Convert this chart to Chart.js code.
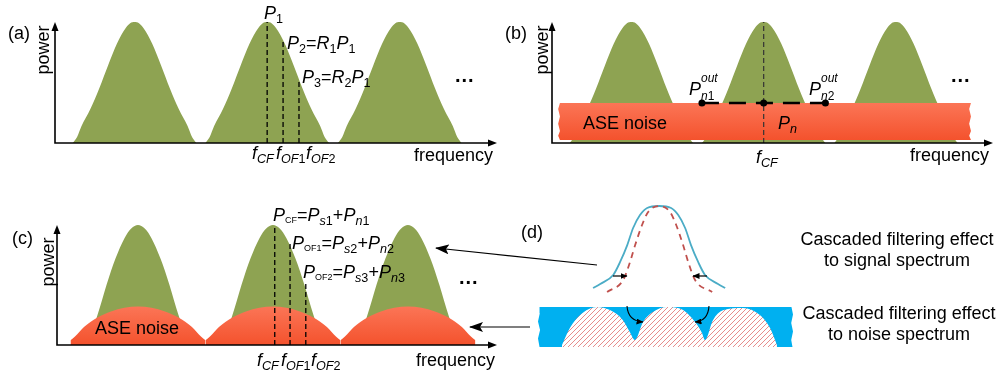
<!DOCTYPE html>
<html>
<head>
<meta charset="utf-8">
<script src="https://cdn.jsdelivr.net/npm/chart.js@4.4.1/dist/chart.umd.min.js"></script>
<style>
  body { margin: 0; background: #fff; }
  #wrap { position: relative; width: 1003px; height: 375px; overflow: hidden; background: #fff; }
  canvas { position: absolute; }
  .t { position: absolute; font: 18px 'Liberation Sans', Arial, sans-serif; line-height: 18px; white-space: nowrap; color: #000; }
  .t sub { font-size: 0.7em; vertical-align: -0.3em; line-height: 0; }
  .t sub.tiny { font-size: 0.5em; vertical-align: -0.2em; }
  .s12 { font-size: 12px; line-height: 12px; }
  .rot { width: 60px; text-align: center; transform: rotate(-90deg); }
  .dots { font-weight: bold; font-size: 20px; letter-spacing: 1px; }
  svg { position: absolute; left: 0; top: 0; }
</style>
</head>
<body>
<div id="wrap">
  <canvas id="chartA" width="500" height="175" style="left:0;top:0"></canvas>
  <canvas id="chartB" width="503" height="175" style="left:500px;top:0"></canvas>
  <canvas id="chartC" width="500" height="190" style="left:0;top:185px"></canvas>
  <canvas id="chartD" width="483" height="190" style="left:520px;top:185px"></canvas>

  <!-- (a) -->
  <div class="t" style="left:8px;top:24px">(a)</div>
  <div class="t rot" style="left:13px;top:41px">power</div>
  <div class="t" style="left:414px;top:146px">frequency</div>
  <div class="t" style="left:264px;top:4px"><i>P</i><sub>1</sub></div>
  <div class="t" style="left:287px;top:34px"><i>P</i><sub>2</sub>=<i>R</i><sub>1</sub><i>P</i><sub>1</sub></div>
  <div class="t" style="left:302px;top:68px"><i>P</i><sub>3</sub>=<i>R</i><sub>2</sub><i>P</i><sub>1</sub></div>
  <div class="t dots" style="left:455px;top:66px">...</div>
  <div class="t" style="left:252px;top:144px"><i>f</i><sub><i>CF</i></sub></div>
  <div class="t" style="left:276px;top:144px"><i>f</i><sub><i>OF</i>1</sub></div>
  <div class="t" style="left:306px;top:144px"><i>f</i><sub><i>OF</i>2</sub></div>

  <!-- (b) -->
  <div class="t" style="left:505px;top:24px">(b)</div>
  <div class="t rot" style="left:512px;top:41px">power</div>
  <div class="t" style="left:910px;top:146px">frequency</div>
  <div class="t" style="left:756px;top:148px"><i>f</i><sub><i>CF</i></sub></div>
  <div class="t" style="left:583px;top:114px">ASE noise</div>
  <div class="t" style="left:778px;top:114px"><i>P</i><sub><i>n</i></sub></div>
  <div class="t" style="left:689px;top:80px"><i>P</i></div>
  <div class="t s12" style="left:701px;top:72px"><i>out</i></div>
  <div class="t s12" style="left:701px;top:90px"><i>n</i>1</div>
  <div class="t" style="left:809px;top:80px"><i>P</i></div>
  <div class="t s12" style="left:821px;top:72px"><i>out</i></div>
  <div class="t s12" style="left:821px;top:90px"><i>n</i>2</div>
  <div class="t dots" style="left:951px;top:66px">...</div>

  <!-- (c) -->
  <div class="t" style="left:12px;top:229px">(c)</div>
  <div class="t rot" style="left:18px;top:253px">power</div>
  <div class="t" style="left:416px;top:351px">frequency</div>
  <div class="t" style="left:257px;top:351px"><i>f</i><sub><i>CF</i></sub></div>
  <div class="t" style="left:281px;top:351px"><i>f</i><sub><i>OF</i>1</sub></div>
  <div class="t" style="left:311px;top:351px"><i>f</i><sub><i>OF</i>2</sub></div>
  <div class="t" style="left:273px;top:206px"><i>P</i><sub class="tiny">CF</sub>=<i>P</i><sub><i>s</i>1</sub>+<i>P</i><sub><i>n</i>1</sub></div>
  <div class="t" style="left:292px;top:234px"><i>P</i><sub class="tiny">OF1</sub>=<i>P</i><sub><i>s</i>2</sub>+<i>P</i><sub><i>n</i>2</sub></div>
  <div class="t" style="left:303px;top:263px"><i>P</i><sub class="tiny">OF2</sub>=<i>P</i><sub><i>s</i>3</sub>+<i>P</i><sub><i>n</i>3</sub></div>
  <div class="t" style="left:95px;top:319px">ASE noise</div>
  <div class="t dots" style="left:459px;top:268px">...</div>

  <!-- (d) -->
  <div class="t" style="left:521px;top:223px">(d)</div>
  <div class="t" style="left:797px;top:229px;width:200px;text-align:center;line-height:21px">Cascaded filtering effect<br>to signal spectrum</div>
  <div class="t" style="left:799px;top:303px;width:200px;text-align:center;line-height:21px">Cascaded filtering effect<br>to noise spectrum</div>

  <svg width="1003" height="375">
    <defs>
      <marker id="big" markerUnits="userSpaceOnUse" markerWidth="14" markerHeight="10" refX="13" refY="5" orient="auto">
        <path d="M0,0 L14,5 L0,10 L3,5 z" fill="#000"/>
      </marker>
      <marker id="small" markerUnits="userSpaceOnUse" markerWidth="7" markerHeight="6" refX="6.5" refY="3" orient="auto">
        <path d="M0,0 L7,3 L0,6 z" fill="#000"/>
      </marker>
    </defs>
    <line x1="597" y1="265" x2="436" y2="248" stroke="#000" stroke-width="1.2" marker-end="url(#big)"/>
    <line x1="530" y1="327" x2="470" y2="327" stroke="#000" stroke-width="1.2" marker-end="url(#big)"/>
    <line x1="613" y1="276" x2="627" y2="276" stroke="#000" stroke-width="1.2" marker-end="url(#small)"/>
    <line x1="707" y1="276" x2="693" y2="276" stroke="#000" stroke-width="1.2" marker-end="url(#small)"/>
    <path d="M627,306 Q628,321 643,322" fill="none" stroke="#000" stroke-width="1.1" marker-end="url(#small)"/>
    <path d="M709,306 Q708,321 695,322" fill="none" stroke="#000" stroke-width="1.1" marker-end="url(#small)"/>
  </svg>
</div>

<script>
// ---- data ----
// channel centres (same in every panel, arbitrary frequency units)
const peakCenters = [18, 48, 78];

// signal spectrum, panels (a) and (b): offset from centre -> power
const sigDx  = [-14, -13, -12, -10, -8, -6, -4, -2, -1, 0, 1, 2, 4, 6, 8, 10, 12, 13, 14];
const sigPow = [0, 0.05, 0.14, 0.28, 0.45, 0.64, 0.82, 0.95, 0.99, 1, 0.99, 0.95, 0.82, 0.64, 0.45, 0.28, 0.14, 0.05, 0];

// narrower signal after cascaded filtering, panel (c)
const sigNarrowDx  = [-12, -10.5, -9, -7, -5, -3, -1.5, 0, 1.5, 3, 5, 7, 9, 10.5, 12];
const sigNarrowPow = [0, 0.1, 0.25, 0.5, 0.72, 0.89, 0.97, 1, 0.97, 0.89, 0.72, 0.5, 0.25, 0.1, 0];

// filtered ASE noise hump, panel (c)
const aseDx  = [-15, -14, -12, -9, -6, -3, 0, 3, 6, 9, 12, 14, 15];
const asePow = [0.04, 0.07, 0.15, 0.23, 0.28, 0.31, 0.32, 0.31, 0.28, 0.23, 0.15, 0.07, 0.04];

// flat ASE band, panel (b)
const bandX = [1.8, 95.0, 94.6, 95.0, 94.6, 95.0, 94.6, 95.0, 1.8, 1.4, 1.8, 1.4, 1.8, 1.4, 1.8];
const bandY = [0.33, 0.33, 0.28, 0.22, 0.16, 0.10, 0.06, 0.025, 0.025, 0.06, 0.10, 0.16, 0.22, 0.28, 0.33];
const noiseProbeX = [34, 48, 62];
const noiseLevel = 0.33;

// centre / offset filter frequencies and the power they read
const tapXA   = [48, 51.6, 55.2];
const tapTopA = [1, 0.85, 0.52];
const tapXC   = [48.4, 51.8, 55.3];
const tapTopC = [1, 0.86, 0.52];

// panel (d): single channel before / after filtering
const filtCenter = 47.5;
const blueDx = [-25.9, -23.1, -18, -15.3, -12.5, -10.2, -7.5, -4.7, 0, 4.7, 7.5, 10.2, 12.5, 15.3, 18, 23.1, 25.9];
const blueY  = [41.8, 44.7, 51.1, 60.3, 72.3, 84.4, 93.6, 98.6, 100, 98.6, 93.6, 84.4, 72.3, 60.3, 51.1, 44.7, 41.8];
const redDx  = [-20.4, -14.1, -11.4, -9.4, -6.7, -4.3, 0, 4.3, 6.7, 9.4, 11.4, 14.1, 20.8];
const redY   = [39, 47.5, 60.3, 72.3, 86.5, 95.7, 100, 95.7, 86.5, 72.3, 60.3, 47.5, 39];
// panel (d): noise strip and the hatched filtered noise
const boxX = [0.6, 99.4, 100, 99.3, 100, 99.3, 99.8, 0.6, 0, 0.8, 0, 0.7, 0.6];
const boxY = [28.4, 28.4, 23, 17, 11, 5, 0, 0, 6, 12, 18, 24, 28.4];
const hatchX = [9.4, 12.5, 16.5, 23.1, 28.2, 33.3, 36, 38, 41.2, 45, 50.6, 56.9, 61.6, 64.3, 65.5, 68.6, 72.5, 80.4, 87, 91, 93.7];
const hatchY = [1.4, 13.5, 22.7, 28.4, 26.2, 19, 10.6, 5, 17.7, 24.8, 28.4, 26.2, 17.7, 10, 5, 19, 26, 27.7, 22.7, 13.5, 1.4];

const GREEN = "#8ea352";
const RED_TOP = "#fb7556";
const RED_BOT = "#f4522d";

// ---- helpers ----
function shape(center, dx, pw) {
    return dx.map((d, i) => ({ x: center + d, y: pw[i] }));
}
function pairs(xs, ys) {
    return xs.map((x, i) => ({ x: x, y: ys[i] }));
}

function area(points, color, order, fill) {
    return {
        data: points,
        backgroundColor: color,
        borderColor: "transparent",
        borderWidth: 0,
        fill: fill || "origin",
        cubicInterpolationMode: "monotone",
        pointRadius: 0,
        order: order,
        clip: false
    };
}

function strokeLine(points, color, width, dash, order, smooth) {
    return {
        data: points,
        borderColor: color,
        borderWidth: width,
        borderDash: dash,
        fill: false,
        tension: 0,
        cubicInterpolationMode: smooth ? "monotone" : "default",
        pointRadius: 0,
        order: order,
        clip: false
    };
}

function redGradient(top, bottom) {
    return (c) => {
        const ch = c.chart;
        if (!ch.chartArea) return RED_BOT;
        const y = ch.scales.y;
        const g = ch.ctx.createLinearGradient(0, y.getPixelForValue(top), 0, y.getPixelForValue(bottom));
        g.addColorStop(0, RED_TOP);
        g.addColorStop(1, RED_BOT);
        return g;
    };
}

function hatch() {
    const c = document.createElement("canvas");
    c.width = 5; c.height = 5;
    const g = c.getContext("2d");
    g.fillStyle = "#fff";
    g.fillRect(0, 0, 5, 5);
    g.strokeStyle = "#e47f7f";
    g.lineWidth = 0.9;
    g.beginPath();
    g.moveTo(0, 5); g.lineTo(5, 0);
    g.moveTo(-2.5, 2.5); g.lineTo(2.5, -2.5);
    g.moveTo(2.5, 7.5); g.lineTo(7.5, 2.5);
    g.stroke();
    return g.createPattern(c, "repeat");
}

// arrowed axes drawn on the chart area
const axisArrows = {
    id: "axisArrows",
    afterDatasetsDraw(chart, args, opts) {
        if (!opts.show) return;
        const { ctx, chartArea: a } = chart;
        ctx.save();
        ctx.strokeStyle = "#000";
        ctx.fillStyle = "#000";
        ctx.lineWidth = 1.6;
        ctx.beginPath();
        ctx.moveTo(a.left, a.top + 6);
        ctx.lineTo(a.left, a.bottom);
        ctx.lineTo(a.right - 6, a.bottom);
        ctx.stroke();
        ctx.beginPath();
        ctx.moveTo(a.left, a.top);
        ctx.lineTo(a.left - 3.5, a.top + 9);
        ctx.lineTo(a.left + 3.5, a.top + 9);
        ctx.closePath();
        ctx.fill();
        ctx.beginPath();
        ctx.moveTo(a.right, a.bottom);
        ctx.lineTo(a.right - 9, a.bottom - 3.5);
        ctx.lineTo(a.right - 9, a.bottom + 3.5);
        ctx.closePath();
        ctx.fill();
        ctx.restore();
    }
};

function options(pad, xr, yr, arrows) {
    return {
        responsive: false,
        animation: false,
        layout: { padding: pad },
        plugins: {
            legend: { display: false },
            tooltip: { enabled: false },
            axisArrows: { show: arrows }
        },
        scales: {
            x: { type: "linear", display: false, min: xr[0], max: xr[1] },
            y: { type: "linear", display: false, min: yr[0], max: yr[1] }
        }
    };
}

// ===================================================
// (a) signal channels with filter taps
// ===================================================
const dsA = peakCenters.map(c => area(shape(c, sigDx, sigPow), GREEN, 2));
tapXA.forEach((x, i) => dsA.push(strokeLine([{ x: x, y: 0 }, { x: x, y: tapTopA[i] }], "#000", 1.3, [5, 3], 0)));

new Chart(document.getElementById("chartA"), {
    type: "line",
    data: { datasets: dsA },
    options: options({ left: 55, right: 3, top: 22, bottom: 32 }, [0, 100], [0, 1], true),
    plugins: [axisArrows]
});

// ===================================================
// (b) signal on top of flat ASE band
// ===================================================
const dsB = peakCenters.map(c => area(shape(c, sigDx, sigPow), GREEN, 3));
const band = area(pairs(bandX, bandY), redGradient(noiseLevel, 0.025), 2, "shape");
band.cubicInterpolationMode = "default";
band.tension = 0;
dsB.push(band);
dsB.push(strokeLine([{ x: 48, y: 0 }, { x: 48, y: 1 }], "#333", 1.2, [5, 3], 1));
const probe = strokeLine(noiseProbeX.map(x => ({ x: x, y: noiseLevel })), "#000", 2.6, [17, 10], 0);
probe.pointRadius = 3.5;
probe.pointBackgroundColor = "#000";
probe.pointBorderWidth = 0;
dsB.push(probe);

new Chart(document.getElementById("chartB"), {
    type: "line",
    data: { datasets: dsB },
    options: options({ left: 52, right: 10, top: 22, bottom: 32 }, [0, 100], [0, 1], true),
    plugins: [axisArrows]
});

// ===================================================
// (c) signal + filtered noise
// ===================================================
const dsC = peakCenters.map(c => area(shape(c, sigNarrowDx, sigNarrowPow), GREEN, 3));
peakCenters.forEach(c => dsC.push(area(shape(c, aseDx, asePow), redGradient(0.32, 0), 2)));
tapXC.forEach((x, i) => dsC.push(strokeLine([{ x: x, y: 0 }, { x: x, y: tapTopC[i] }], "#000", 1.3, [5, 3], 0)));

new Chart(document.getElementById("chartC"), {
    type: "line",
    data: { datasets: dsC },
    options: options({ left: 57, right: 3, top: 40, bottom: 30 }, [0, 97.8], [0, 1], true),
    plugins: [axisArrows]
});

// ===================================================
// (d) cascaded filtering sketch
// ===================================================
const box = area(pairs(boxX, boxY), "#00b0f0", 3, "shape");
box.cubicInterpolationMode = "default";
box.tension = 0;
const dsD = [
    strokeLine(shape(filtCenter, blueDx, blueY), "#4bacc6", 1.8, [], 1, true),
    strokeLine(shape(filtCenter, redDx, redY), "#c0504d", 1.8, [6, 5], 0, true),
    area(pairs(hatchX, hatchY), hatch(), 2),
    box
];

new Chart(document.getElementById("chartD"), {
    type: "line",
    data: { datasets: dsD },
    options: options({ left: 18, right: 210, top: 21, bottom: 28 }, [0, 100], [0, 100], false),
    plugins: [axisArrows]
});
</script>
</body>
</html>
